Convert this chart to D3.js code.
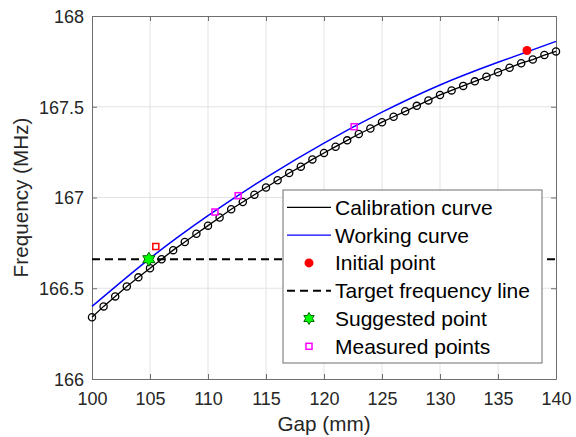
<!DOCTYPE html>
<meta charset="utf-8">
<style>
body { margin: 0; background: #fff; }
svg { display: block; font-family: "Liberation Sans", Arial, sans-serif; }
.grid line { stroke: #e3e3e3; stroke-width: 1; }
.axis text { font-size: 18px; fill: #262626; }
.axis path, .axis line { stroke: #6e6e6e; }
</style>
<svg width="576" height="437"></svg>
<script src="https://d3js.org/d3.v7.min.js"></script>
<script>

// calibration curve, one marker per mm
var calGap = d3.range(100, 141);
var calFreq = [166.34, 166.40, 166.455, 166.51, 166.56, 166.61, 166.66, 166.71, 166.755, 166.80,
               166.845, 166.89, 166.935, 166.975, 167.015, 167.055, 167.095, 167.135, 167.17, 167.21,
               167.245, 167.28, 167.315, 167.35, 167.38, 167.415, 167.445, 167.475, 167.505, 167.535,
               167.565, 167.59, 167.615, 167.64, 167.665, 167.69, 167.715, 167.74, 167.76, 167.785, 167.805];

// working curve
var workGap = [100, 105, 110, 115, 120, 125, 130, 135, 140];
var workFreq = [166.40, 166.665, 166.90, 167.11, 167.30, 167.47, 167.62, 167.745, 167.86];

var initialPoint = [137.5, 167.81];
var targetFreq = 166.66;
var suggestedPoint = [104.9, 166.66];
var firstMeasured = [105.5, 166.73];
var measuredGap = [110.6, 112.6, 122.6];
var measuredFreq = [166.92, 167.01, 167.39];

var xTicks = [100, 105, 110, 115, 120, 125, 130, 135, 140];
var yTicks = [166, 166.5, 167, 167.5, 168];
var yTickLabels = ["166", "166.5", "167", "167.5", "168"];

var legendLabels = ["Calibration curve", "Working curve", "Initial point",
                    "Target frequency line", "Suggested point", "Measured points"];

var svg = d3.select("svg");
var margin = {left: 92, right: 20, top: 16, bottom: 58};
var width = 576 - margin.left - margin.right,
    height = 437 - margin.top - margin.bottom;

var x = d3.scaleLinear().domain([100, 140]).range([0, width]);
var y = d3.scaleLinear().domain([166, 168]).range([height, 0]);

var g = svg.append("g").attr("transform", "translate(" + margin.left + "," + margin.top + ")");

// grid
g.append("g").attr("class", "grid")
  .selectAll("line").data(xTicks.slice(1, -1)).enter().append("line")
  .attr("x1", d => x(d)).attr("x2", d => x(d)).attr("y1", 0).attr("y2", height);
g.append("g").attr("class", "grid")
  .selectAll("line").data(yTicks.slice(1, -1)).enter().append("line")
  .attr("y1", d => y(d)).attr("y2", d => y(d)).attr("x1", 0).attr("x2", width);

// axes
var xAxis = g.append("g").attr("class", "axis")
  .attr("transform", "translate(0," + height + ")")
  .call(d3.axisBottom(x).tickValues(xTicks).tickSizeInner(-5).tickSizeOuter(0).tickPadding(11));
var yAxis = g.append("g").attr("class", "axis")
  .call(d3.axisLeft(y).tickValues(yTicks).tickFormat((d, i) => yTickLabels[i])
    .tickSizeInner(-5).tickSizeOuter(0).tickPadding(8));
g.append("g").attr("class", "axis")
  .call(d3.axisTop(x).tickValues(xTicks).tickFormat("").tickSizeInner(-5).tickSizeOuter(0));
g.append("g").attr("class", "axis")
  .attr("transform", "translate(" + width + ",0)")
  .call(d3.axisRight(y).tickValues(yTicks).tickFormat("").tickSizeInner(-5).tickSizeOuter(0));
g.selectAll(".axis text").attr("dy", null);
xAxis.selectAll("text").attr("y", 26);
yAxis.selectAll("text").attr("dy", "0.36em");

// axis labels
svg.append("text").attr("x", margin.left + width / 2).attr("y", 431)
  .attr("text-anchor", "middle").style("font-size", "20.7px").attr("fill", "#262626")
  .text("Gap (mm)");
svg.append("text").attr("transform", "translate(28," + (margin.top + height / 2) + ") rotate(-90)")
  .attr("text-anchor", "middle").style("font-size", "20.7px").attr("fill", "#262626")
  .text("Frequency (MHz)");

var line = d3.line().x(d => x(d[0])).y(d => y(d[1]));
var calData = calGap.map((d, i) => [d, calFreq[i]]);
var workData = workGap.map((d, i) => [d, workFreq[i]]);

// target frequency line
g.append("line")
  .attr("x1", 0).attr("x2", width).attr("y1", y(targetFreq)).attr("y2", y(targetFreq))
  .attr("stroke", "#000").attr("stroke-width", 2).attr("stroke-dasharray", "8,5");

// calibration curve
g.append("path").datum(calData)
  .attr("d", line).attr("fill", "none").attr("stroke", "#000").attr("stroke-width", 1.3);
g.selectAll(".cal").data(calData).enter().append("circle")
  .attr("cx", d => x(d[0])).attr("cy", d => y(d[1])).attr("r", 3.6)
  .attr("fill", "none").attr("stroke", "#000").attr("stroke-width", 1.3);

// working curve
g.append("path").datum(workData)
  .attr("d", line.curve(d3.curveNatural)).attr("fill", "none")
  .attr("stroke", "#0000ff").attr("stroke-width", 1.5);

// hexagram
function hexagram(r) {
  var pts = [];
  for (var i = 0; i < 12; i++) {
    var a = -Math.PI / 2 + i * Math.PI / 6;
    var rr = i % 2 === 0 ? r : r * 0.577;
    pts.push([rr * Math.cos(a), rr * Math.sin(a)]);
  }
  return "M" + pts.join("L") + "Z";
}

// markers
g.append("circle").attr("cx", x(initialPoint[0])).attr("cy", y(initialPoint[1])).attr("r", 4.5)
  .attr("fill", "#ff0000");
g.append("rect")
  .attr("x", x(firstMeasured[0]) - 3).attr("y", y(firstMeasured[1]) - 3)
  .attr("width", 6).attr("height", 6)
  .attr("fill", "none").attr("stroke", "#ff0000").attr("stroke-width", 1.5);
g.selectAll(".meas").data(measuredGap).enter().append("rect")
  .attr("x", d => x(d) - 3).attr("y", (d, i) => y(measuredFreq[i]) - 3)
  .attr("width", 6).attr("height", 6)
  .attr("fill", "none").attr("stroke", "#ff00ff").attr("stroke-width", 1.5);
g.append("path").attr("d", hexagram(7))
  .attr("transform", "translate(" + x(suggestedPoint[0]) + "," + y(suggestedPoint[1]) + ")")
  .attr("fill", "#00ff00").attr("stroke", "#006400").attr("stroke-width", 1);

// legend
var lg = svg.append("g").attr("transform", "translate(283,190)");
lg.append("rect").attr("width", 259).attr("height", 173)
  .attr("fill", "#fff").attr("stroke", "#6e6e6e").attr("stroke-width", 1);
var rowH = 27.8, row0 = 17.3;
legendLabels.forEach(function(lbl, i) {
  var cy = row0 + i * rowH;
  lg.append("text").attr("x", 52).attr("y", cy).attr("dy", "0.36em")
    .style("font-size", "21px").attr("fill", "#000").text(lbl);
  if (i === 0 || i === 1 || i === 3) {
    lg.append("line").attr("x1", 4).attr("x2", 48).attr("y1", cy).attr("y2", cy)
      .attr("stroke", i === 1 ? "#0000ff" : "#000")
      .attr("stroke-width", i === 3 ? 2 : 1.3)
      .attr("stroke-dasharray", i === 3 ? "8,5" : null);
  } else if (i === 2) {
    lg.append("circle").attr("cx", 26).attr("cy", cy).attr("r", 4.5).attr("fill", "#ff0000");
  } else if (i === 4) {
    lg.append("path").attr("d", hexagram(6)).attr("transform", "translate(26," + cy + ")")
      .attr("fill", "#00ff00").attr("stroke", "#006400").attr("stroke-width", 1);
  } else {
    lg.append("rect").attr("x", 23).attr("y", cy - 3).attr("width", 6).attr("height", 6)
      .attr("fill", "none").attr("stroke", "#ff00ff").attr("stroke-width", 1.5);
  }
});

</script>
